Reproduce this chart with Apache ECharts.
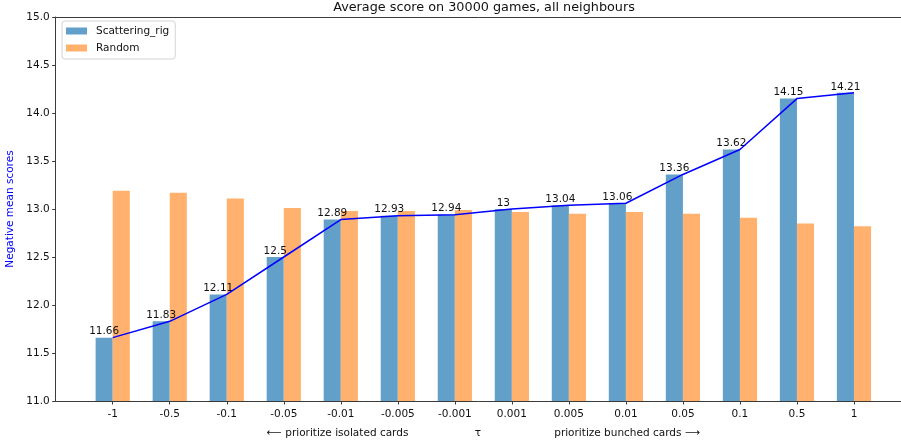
<!DOCTYPE html>
<html>
<head>
<meta charset="utf-8">
<script src="https://cdn.jsdelivr.net/npm/echarts@6/dist/echarts.min.js"></script>
<style>
  html, body { margin: 0; padding: 0; background: #fff; }
  #chart { width: 901px; height: 445px; }
</style>
</head>
<body>
<div id="chart"></div>
<script>
// tau values tested, from "prioritize isolated" to "prioritize bunched"
const tauLabels = ['-1', '-0.5', '-0.1', '-0.05', '-0.01', '-0.005', '-0.001',
                   '0.001', '0.005', '0.01', '0.05', '0.1', '0.5', '1'];
// negative mean score per strategy
const scatteringRig = [11.66, 11.83, 12.11, 12.5, 12.89, 12.93, 12.94,
                       13, 13.04, 13.06, 13.36, 13.62, 14.15, 14.21];
const randomScores = [13.19, 13.17, 13.11, 13.01, 12.98, 12.98, 12.99,
                      12.97, 12.95, 12.97, 12.95, 12.91, 12.85, 12.82];
const yTicks = { min: 11, max: 15, step: 0.5 };

const FONT = 'DejaVu Sans';
const TXT = '#111111';
const SPINE = '#3a3a3a';

// one empty slot on each side gives the axis its margins around the bars
const axisCats = [''].concat(tauLabels, ['']);
const pad = arr => [null].concat(arr, [null]);
const inner = i => i > 0 && i < axisCats.length - 1;

const chart = echarts.init(document.getElementById('chart'), null, { renderer: 'canvas' });

chart.setOption({
  animation: false,
  backgroundColor: '#ffffff',
  textStyle: { fontFamily: FONT },
  title: {
    text: 'Average score on 30000 games, all neighbours',
    left: 484,
    top: 1,
    padding: 0,
    textAlign: 'center',
    textStyle: { fontFamily: FONT, fontSize: 12.8, fontWeight: 'normal', color: TXT }
  },
  legend: {
    orient: 'vertical',
    left: 62,
    top: 21,
    padding: [4, 6, 5, 4],
    itemGap: 5,
    itemWidth: 21,
    itemHeight: 7,
    borderColor: '#d4d4d4',
    borderWidth: 1,
    borderRadius: 3,
    backgroundColor: 'rgba(255,255,255,0.8)',
    textStyle: { fontFamily: FONT, fontSize: 10.5, color: TXT, lineHeight: 12, padding: [0, 0, 0, 4] },
    data: [
      { name: 'Scattering_rig', icon: 'rect' },
      { name: 'Random', icon: 'rect' }
    ]
  },
  grid: {
    left: 55.7,
    top: 17,
    width: 855.3,
    height: 384,
    containLabel: false,
    outerBoundsMode: 'none',
    show: false
  },
  xAxis: [
    {
      type: 'category',
      data: axisCats,
      boundaryGap: false,
      name: '{l|⟵ prioritize isolated cards}{t|τ}{r|prioritize bunched cards ⟶}',
      nameLocation: 'middle',
      nameGap: 27,
      nameTextStyle: {
        fontFamily: FONT, fontSize: 10.5, color: TXT,
        rich: {
          l: { width: 204, align: 'left', fontFamily: FONT, fontSize: 10.5, color: TXT },
          t: { width: 14, align: 'center', fontFamily: FONT, fontSize: 10.5, color: TXT },
          r: { width: 215, align: 'right', fontFamily: FONT, fontSize: 10.5, color: TXT }
        }
      },
      axisLine: { show: true, lineStyle: { color: SPINE, width: 1 } },
      axisTick: { show: true, length: 3.5, interval: (i) => inner(i), lineStyle: { color: SPINE } },
      axisLabel: { interval: (i) => inner(i), margin: 8, fontFamily: FONT, fontSize: 10.5, color: TXT },
      splitLine: { show: false }
    },
    {
      // top spine only
      type: 'category',
      data: axisCats,
      boundaryGap: false,
      position: 'top',
      axisLine: { show: true, lineStyle: { color: SPINE, width: 1 } },
      axisTick: { show: false },
      axisLabel: { show: false },
      splitLine: { show: false }
    }
  ],
  yAxis: {
    type: 'value',
    min: yTicks.min,
    max: yTicks.max,
    interval: yTicks.step,
    name: 'Negative mean scores',
    nameLocation: 'middle',
    nameGap: 35,
    nameTextStyle: { fontFamily: FONT, fontSize: 10.5, color: '#0000ff' },
    axisLine: { show: true, lineStyle: { color: SPINE, width: 1 } },
    axisTick: { show: true, length: 3.5, lineStyle: { color: SPINE } },
    axisLabel: {
      margin: 6, fontFamily: FONT, fontSize: 10.5, color: TXT,
      formatter: v => v.toFixed(1)
    },
    splitLine: { show: false }
  },
  series: [
    {
      name: 'Scattering_rig',
      type: 'bar',
      data: pad(scatteringRig),
      barWidth: 17.1,
      barGap: '0%',
      itemStyle: { color: '#62a0ca' },
      label: {
        show: true,
        position: 'top',
        distance: 0,
        fontFamily: FONT,
        fontSize: 10.5,
        lineHeight: 12,
        color: TXT,
        formatter: p => String(p.value)
      },
      z: 2
    },
    {
      name: 'Random',
      type: 'bar',
      data: pad(randomScores),
      barWidth: 17.1,
      barGap: '0%',
      itemStyle: { color: '#ffb16d' },
      z: 2
    },
    {
      name: 'line',
      type: 'line',
      data: pad(scatteringRig),
      showSymbol: false,
      symbol: 'none',
      connectNulls: false,
      lineStyle: { color: '#0000ff', width: 1.5 },
      z: 3
    }
  ]
});
</script>
</body>
</html>
